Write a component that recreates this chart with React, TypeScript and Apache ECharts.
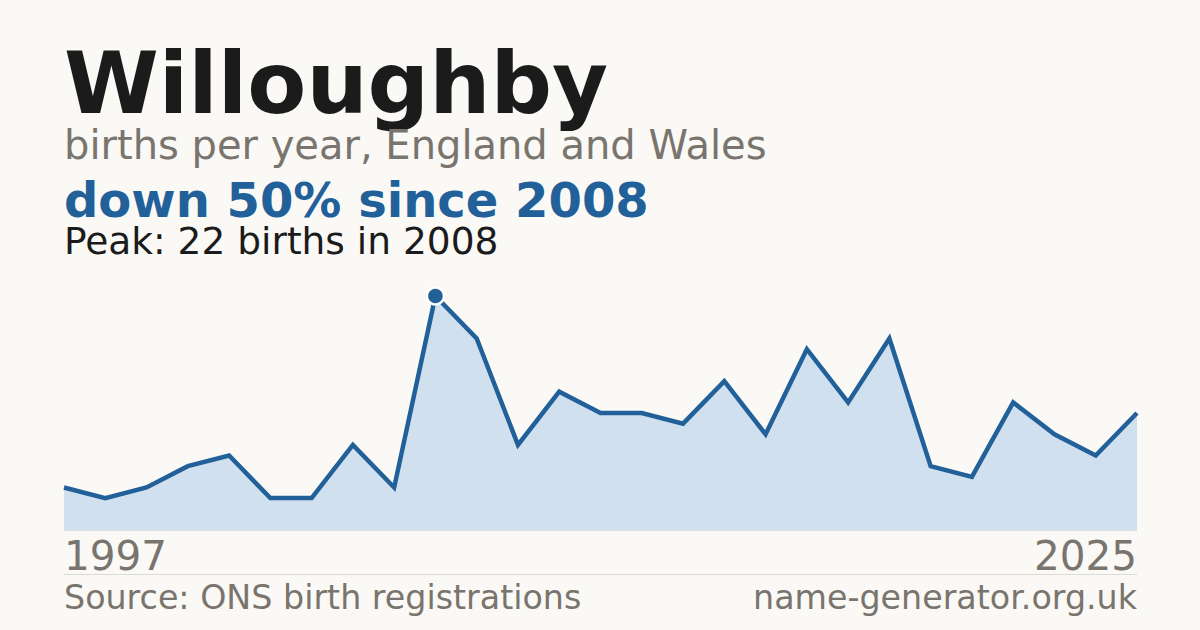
import React, { useEffect, useRef } from "react";
import * as echarts from "echarts";

const years = [
  "1997", "1998", "1999", "2000", "2001", "2002", "2003", "2005", "2006",
  "2008", "2009", "2010", "2011", "2012", "2013", "2014", "2015", "2016",
  "2017", "2018", "2019", "2020", "2021", "2022", "2023", "2024", "2025",
];
const births = [4, 3, 4, 6, 7, 3, 3, 8, 4, 22, 18, 8, 13, 11, 11, 10, 14, 9, 17, 12, 18, 6, 5, 12, 9, 7, 11];

const titleText = "Willoughby";
const subtitleText = "births per year, England and Wales";
const changeText = "down 50% since 2008";
const peakText = "Peak: 22 births in 2008";
const sourceText = "Source: ONS birth registrations";
const siteText = "name-generator.org.uk";

const FONT = "'DejaVu Sans', sans-serif";
const BLUE = "#22609a";
const GREY = "#79746d";

export default function App() {
  const ref = useRef<HTMLDivElement>(null);
  useEffect(() => {
    if (!ref.current) return;
    const chart = echarts.init(ref.current, null, { renderer: "svg" });
    const peakValue = Math.max(...births);
    const peakIndex = births.indexOf(peakValue);
    const lastIndex = years.length - 1;
    chart.setOption({
      animation: false,
      backgroundColor: "#faf9f5",
      grid: { left: 64, right: 63, top: 296, bottom: 100 },
      xAxis: {
        type: "category",
        data: years,
        boundaryGap: false,
        axisLine: { show: true, lineStyle: { color: "#dcdcdc", width: 1 } },
        axisTick: { show: false },
        splitLine: { show: false },
        axisLabel: {
          interval: (i: number) => i === 0 || i === lastIndex,
          alignMinLabel: "left",
          alignMaxLabel: "right",
          fontFamily: FONT,
          fontSize: 40.5,
          color: GREY,
          margin: 5.5,
        },
      },
      yAxis: {
        type: "value",
        min: 0,
        max: peakValue,
        show: false,
        splitLine: { show: false },
      },
      series: [
        {
          type: "line",
          data: births,
          symbol: "none",
          lineStyle: { color: BLUE, width: 4.5, join: "miter" },
          areaStyle: { color: "#d0e0ef", opacity: 1 },
          z: 2,
        },
        {
          type: "scatter",
          data: [[peakIndex, peakValue]],
          symbol: "circle",
          symbolSize: 17,
          itemStyle: { color: BLUE, borderColor: "#ffffff", borderWidth: 2.5, opacity: 1 },
          z: 3,
        },
      ],
      graphic: [
        {
          type: "text",
          left: 64,
          top: 40,
          style: { text: titleText, font: `bold 86px ${FONT}`, lineHeight: 84, fill: "#1b1b1b" },
        },
        {
          type: "text",
          left: 64,
          top: 124.5,
          style: { text: subtitleText, font: `40px ${FONT}`, fill: GREY },
        },
        {
          type: "text",
          left: 64,
          top: 175.5,
          style: { text: changeText, font: `bold 48px ${FONT}`, lineHeight: 46, fill: BLUE },
        },
        {
          type: "text",
          left: 64,
          top: 221.5,
          style: { text: peakText, font: `37.5px ${FONT}`, fill: "#1b1b1b" },
        },
        {
          type: "line",
          shape: { x1: 64, y1: 574.5, x2: 1137, y2: 574.5 },
          style: { stroke: "#dcdad5", lineWidth: 1 },
        },
        {
          type: "text",
          left: 64,
          top: 580.5,
          style: { text: sourceText, font: `33.3px ${FONT}`, fill: GREY },
        },
        {
          type: "text",
          right: 63,
          top: 580.5,
          style: { text: siteText, font: `33.3px ${FONT}`, fill: GREY },
        },
      ],
    });
    return () => chart.dispose();
  }, []);
  return (
    <div
      ref={ref}
      style={{ position: "fixed", left: 0, top: 0, width: 1200, height: 630 }}
    />
  );
}
